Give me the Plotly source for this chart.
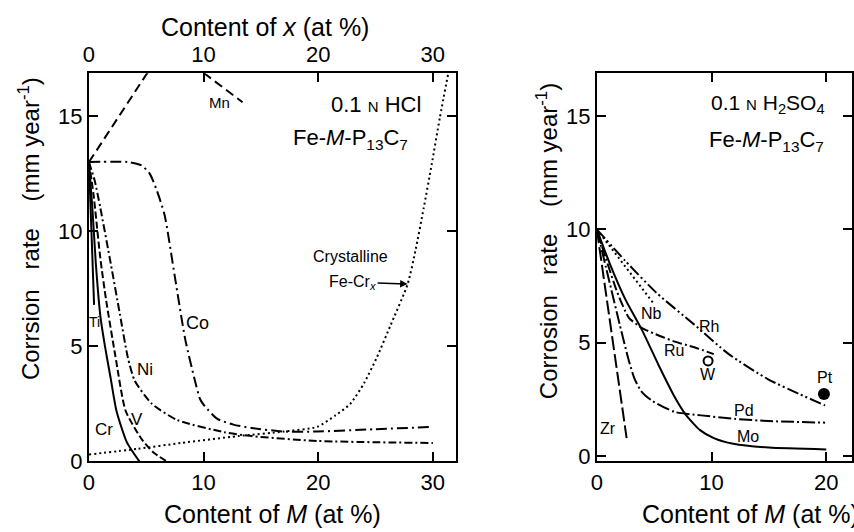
import plotly.graph_objects as go

FONT = "Liberation Sans, Arial, sans-serif"

# ---------------- Left panel: 0.1 N HCl, Fe-M-P13C7 ----------------
mn_x = [0, 2.5, 5.0, 6.7, 8.3, 10.2, 13.4]
mn_y = [13.0, 14.9, 16.8, 17.9, 17.6, 16.8, 15.6]

co_x = [0, 3.4, 4.6, 5.3, 5.9, 6.6, 7.5, 8.4, 9.2, 9.7, 10.1, 11.2, 12.6, 14.2, 17.0, 19.9, 25.0, 30.0]
co_y = [13.0, 13.0, 12.85, 12.5, 11.8, 10.7, 8.0, 5.3, 3.6, 2.7, 2.4, 1.85, 1.6, 1.45, 1.3, 1.3, 1.4, 1.5]

ni_x = [0, 0.5, 1.0, 1.9, 2.7, 3.4, 4.0, 5.5, 7.7, 11.8, 14.2, 19.9, 30.0]
ni_y = [13.0, 12.2, 11.0, 8.6, 6.4, 4.5, 3.5, 2.5, 1.8, 1.27, 1.1, 0.89, 0.8]

v_x = [0, 0.4, 1.0, 1.5, 2.3, 3.2, 4.6, 5.6, 6.8]
v_y = [13.0, 11.6, 8.8, 7.0, 4.6, 2.2, 0.97, 0.4, 0.0]

cr_x = [0, 0.3, 0.6, 1.0, 1.4, 1.9, 2.4, 3.3, 4.4]
cr_y = [13.0, 11.0, 8.6, 6.3, 5.0, 3.6, 2.2, 0.84, 0.0]

ti_x = [0, 0.45]
ti_y = [13.0, 6.8]

# Crystalline Fe-Cr_x, plotted against content of x (top axis)
fecr_x = [0, 4.3, 8.0, 13.0, 17.0, 19.9, 21.5, 22.8, 24.0, 25.1, 26.3, 27.8, 28.5, 29.2, 29.9, 30.6, 31.4]
fecr_y = [0.3, 0.55, 0.8, 1.1, 1.3, 1.5, 2.0, 2.5, 3.4, 4.5, 5.9, 7.7, 9.2, 11.0, 12.9, 14.9, 17.0]

# ---------------- Right panel: 0.1 N H2SO4 ----------------
rh_x = [0, 2.5, 5.2, 8.5, 11.5, 14.9, 17.7, 19.9]
rh_y = [10, 8.6, 7.2, 5.8, 4.5, 3.4, 2.73, 2.24]

nb_x = [0, 5.0]
nb_y = [10, 6.7]

ru_x = [0, 0.8, 1.8, 2.8, 3.9, 5.5, 6.8, 8.5, 10.2]
ru_y = [10, 8.7, 7.2, 6.1, 5.66, 5.3, 5.05, 4.8, 4.5]

mo_x = [0, 1.2, 2.5, 3.9, 5.4, 6.8, 7.8, 9.0, 10.2, 11.9, 15.0, 20.0]
mo_y = [10, 8.4, 6.9, 5.6, 4.0, 2.6, 1.8, 1.15, 0.8, 0.55, 0.38, 0.3]

pd_x = [0, 1.0, 2.0, 2.8, 3.3, 3.9, 4.8, 6.8, 9.1, 12.0, 15.0, 19.9]
pd_y = [10, 7.9, 5.8, 4.2, 3.4, 2.85, 2.45, 1.95, 1.8, 1.65, 1.55, 1.48]

zr_x = [0, 2.6]
zr_y = [10, 0.8]

w_x = [9.7]
w_y = [4.2]
pt_x = [19.8]
pt_y = [2.74]

x_ticks_left = [0, 10, 20, 30]
x_ticks_right = [0, 10, 20]
y_ticks = [0, 5, 10, 15]

fig = go.Figure()


def add_line(x, y, dash, xa="x", ya="y", shape="spline"):
    fig.add_trace(go.Scatter(
        x=x, y=y, mode="lines", xaxis=xa, yaxis=ya,
        line=dict(color="black", width=2, dash=dash, shape=shape, smoothing=0.6),
        showlegend=False, hoverinfo="skip"))


# left panel
add_line(mn_x, mn_y, "9px,5px", shape="linear")
add_line(co_x, co_y, "11px,4px,2px,4px")
add_line(ni_x, ni_y, "8px,3px,2px,3px")
add_line(v_x, v_y, "7px,3px")
add_line(cr_x, cr_y, "solid")
add_line(ti_x, ti_y, "solid", shape="linear")
add_line(fecr_x, fecr_y, "2px,3px", xa="x3", ya="y")

# right panel
add_line(rh_x, rh_y, "12px,3px,2px,3px,2px,3px", "x2", "y2")
add_line(nb_x, nb_y, "2px,3px", "x2", "y2", shape="linear")
add_line(ru_x, ru_y, "10px,3px,2px,3px", "x2", "y2")
add_line(mo_x, mo_y, "solid", "x2", "y2")
add_line(pd_x, pd_y, "13px,3px,2px,3px", "x2", "y2")
add_line(zr_x, zr_y, "14px,4px", "x2", "y2", shape="linear")

fig.add_trace(go.Scatter(x=w_x, y=w_y, mode="markers", xaxis="x2", yaxis="y2",
                         marker=dict(symbol="circle-open", size=9, color="black",
                                     line=dict(width=2, color="black")),
                         showlegend=False, hoverinfo="skip"))
fig.add_trace(go.Scatter(x=pt_x, y=pt_y, mode="markers", xaxis="x2", yaxis="y2",
                         marker=dict(symbol="circle", size=12, color="black"),
                         showlegend=False, hoverinfo="skip"))

axis_common = dict(showline=True, linecolor="black", linewidth=2,
                   ticks="inside", ticklen=9, tickwidth=2, tickcolor="black",
                   showgrid=False, zeroline=False,
                   tickfont=dict(family=FONT, size=22, color="black"))

ydom = [0.1109, 0.8590]
fig.update_layout(
    width=854, height=532,
    margin=dict(l=0, r=0, t=0, b=0),
    paper_bgcolor="white", plot_bgcolor="white",
    xaxis=dict(domain=[0.0978, 0.5304], range=[0, 32.0], tickvals=x_ticks_left,
               anchor="y", mirror=False, **axis_common),
    xaxis3=dict(range=[0, 32.0], tickvals=x_ticks_left, overlaying="x", side="top",
                anchor="y", **axis_common),
    yaxis=dict(domain=ydom, range=[0, 16.86], tickvals=y_ticks, anchor="x",
               mirror="ticks", **axis_common),
    xaxis2=dict(domain=[0.6967, 0.9977], range=[0, 22.25], tickvals=x_ticks_right,
                anchor="y2", mirror="ticks", **axis_common),
    yaxis2=dict(domain=ydom, range=[-0.23, 16.88], tickvals=y_ticks, anchor="x2",
                mirror="ticks", **axis_common),
)

ann = []


def txt(x, y, text, size=17, xref="x", yref="y", **kw):
    d = dict(x=x, y=y, text=text, xref=xref, yref=yref, showarrow=False,
             xanchor="center", yanchor="middle",
             font=dict(family=FONT, size=size, color="black"))
    d.update(kw)
    ann.append(d)


# axis titles
txt(268 / 854, 1 - 527 / 532, "Content of <i>M</i> (at %)", 25, "paper", "paper")
txt(261 / 854, 1 - 28 / 532, "Content of <i>x</i> (at %)", 25, "paper", "paper")
txt(638 / 854, 1 - 527 / 532, "Content of <i>M</i> (at %)", 25, "paper", "paper",
    xanchor="left")
txt(23 / 854, 1 - 234 / 532, "Corrsion   rate    (mm year<sup>-1</sup>)", 24, "paper", "paper",
    textangle=-90)
txt(545 / 854, 1 - 247 / 532, "Corrosion   rate    (mm year<sup>-1</sup>)", 24, "paper", "paper",
    textangle=-90)

# left panel labels
txt(11.4, 15.6, "Mn", 15)
txt(29.1, 15.5, "0.1 <span style='font-size:15px'>N</span> HCl", 22, xanchor="right")
txt(22.8, 14.0, "Fe-<i>M</i>-P<sub>13</sub>C<sub>7</sub>", 22)
txt(9.5, 6.0, "Co", 18)
txt(4.9, 4.0, "Ni", 17)
txt(4.2, 1.8, "V", 17)
txt(1.3, 1.4, "Cr", 17)
txt(0.45, 6.06, "Ti", 14)
txt(22.8, 8.9, "Crystalline", 16, xref="x3")
ann.append(dict(x=27.8, y=7.7, xref="x3", yref="y", ax=-55, ay=-2,
                text="Fe-Cr<sub><i>x</i></sub>", showarrow=True, arrowhead=2,
                arrowsize=1, arrowwidth=1.5, arrowcolor="black",
                font=dict(family=FONT, size=16, color="black")))

# right panel labels
txt(14.9, 15.5, "0.1 <span style='font-size:15px'>N</span> H<sub>2</sub>SO<sub>4</sub>", 21,
    xref="x2", yref="y2")
txt(14.8, 13.9, "Fe-<i>M</i>-P<sub>13</sub>C<sub>7</sub>", 22, xref="x2", yref="y2")
txt(4.8, 6.3, "Nb", 16, xref="x2", yref="y2")
txt(9.8, 5.7, "Rh", 16, xref="x2", yref="y2")
txt(6.75, 4.67, "Ru", 16, xref="x2", yref="y2")
txt(9.7, 3.6, "W", 16, xref="x2", yref="y2")
txt(19.9, 3.45, "Pt", 16, xref="x2", yref="y2")
txt(12.8, 2.0, "Pd", 16, xref="x2", yref="y2")
txt(13.2, 0.86, "Mo", 16, xref="x2", yref="y2")
txt(1.0, 1.2, "Zr", 16, xref="x2", yref="y2")

fig.update_layout(annotations=ann)
fig.write_html("out.html")
